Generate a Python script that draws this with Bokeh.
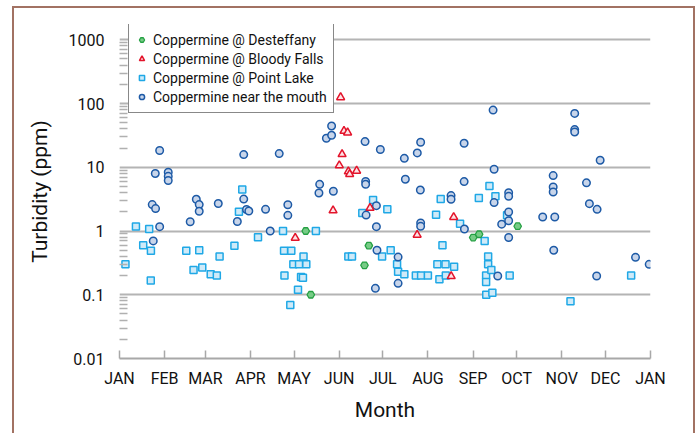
from bokeh.plotting import figure
from bokeh.models import Range1d, FixedTicker, CustomJSTickFormatter, Legend, LegendItem
from bokeh.embed import file_html
from bokeh.resources import INLINE

# ---- data (day of year, turbidity ppm) ----
desteffany_day = [128, 131.5, 168.4, 171.4, 243.1, 247.2, 273.7]
desteffany_val = [1.0, 0.1, 0.29, 0.59, 0.79, 0.89, 1.19]

bloody_day = [120.8, 146.8, 151.1, 152, 153, 154.3, 156.8, 157.3, 158.2, 163, 172.2, 204.6, 228, 229.7]
bloody_val = [0.78, 2.1, 10.7, 125, 16, 37, 35, 8.6, 7.8, 8.8, 2.3, 0.87, 0.195, 1.65]

point_day = [4.1, 11.3, 16.3, 20.4, 21.6, 21.5, 45.9, 50.9, 54.8, 56.9, 62.7, 66.9, 68.8, 79, 82.1,
             84.4, 95.2, 112.4, 113.1, 113.4, 117.4, 118.1, 119.5, 122.7, 123.4, 124.8, 126.1, 126.5,
             128.4, 135, 157.3, 159.8, 166.9, 174.3, 180.5, 184.1, 186.4, 190.8, 191.5, 195.8, 203.7,
             207.3, 212, 217.6, 218.5, 219.9, 220.8, 222, 224.1, 224.3, 230, 234.1, 247, 251, 252,
             252, 252.1, 253.4, 253.4, 254.3, 255.6, 256.3, 258.4, 266.4, 268.2, 310, 351.7]
point_val = [0.3, 1.18, 0.6, 1.08, 0.49, 0.168, 0.49, 0.245, 0.5, 0.268, 0.21, 0.2, 0.4, 0.59, 2.0,
             4.47, 0.8, 1.0, 0.49, 0.2, 0.069, 0.49, 0.3, 0.12, 0.3, 0.19, 0.185, 0.4,
             0.3, 1.0, 0.4, 0.4, 1.92, 3.07, 0.4, 2.19, 0.5, 0.3, 0.23, 0.21, 0.2,
             0.2, 0.2, 1.8, 0.3, 0.175, 3.18, 0.6, 0.3, 0.2, 0.275, 1.3, 3.3, 0.7, 0.2,
             0.158, 0.1, 0.4, 0.3, 5.1, 0.245, 0.108, 3.5, 1.76, 0.2, 0.079, 0.2]

mouth_day = [22.5, 23.2, 24.6, 24.8, 27.6, 27.6, 33.5, 33.5, 33.5, 48.6, 52.8, 54.8, 54.8, 67.9, 81,
             85.4, 85.4, 87.3, 88.9, 100.4, 103.6, 109.8, 115.7, 115.7, 137.1, 137.6, 142.2, 145.8,
             145.8, 147, 168.8, 169.2, 169.2, 169.5, 175.9, 176.6, 176.6, 177, 179.3, 191.5, 191.5,
             195.8, 196.5, 204.7, 206.8, 207, 207, 207, 227.9, 227.9, 236.9, 236.9, 237.1, 256.8,
             257.5, 257.5, 260, 262.7, 267.5, 267.5, 267.5, 267.5, 267.5, 290.9, 298.1, 298.1, 298.1,
             298.5, 299.2, 312.9, 312.9, 312.9, 321, 323, 328, 328.3, 330.4, 354.7, 364.1]
mouth_val = [2.6, 0.7, 8.0, 2.25, 18.3, 1.17, 8.35, 7.2, 6.2, 1.4, 3.15, 2.6, 2.04, 2.7, 1.41,
             15.8, 3.17, 2.18, 2.06, 2.19, 1.0, 16.4, 2.58, 1.76, 3.95, 5.4, 28.5, 31.8,
             44.5, 4.2, 25.3, 6.0, 5.4, 1.78, 0.126, 2.5, 1.17, 0.5, 19, 0.39, 0.151,
             13.8, 6.5, 16.8, 4.4, 24.7, 1.34, 1.185, 3.6, 3.15, 23.8, 5.97, 1.075, 79,
             9.3, 2.79, 0.197, 1.28, 4.0, 3.5, 1.99, 1.45, 0.79, 1.66, 7.4, 4.9, 4.1,
             0.5, 1.66, 70, 39, 35.8, 5.7, 2.69, 0.197, 2.19, 12.9, 0.386, 0.3]

month_ticks = [0, 31, 59, 90, 120, 151, 181, 212, 243, 273, 304, 334, 365]
month_labels = ["JAN", "FEB", "MAR", "APR", "MAY", "JUN", "JUL", "AUG", "SEP", "OCT", "NOV", "DEC", "JAN"]
y_ticks = [0.01, 0.1, 1, 10, 100, 1000]

FONT = "Roboto"
BROWN = "#a27263"

p = figure(width=695, height=433, y_axis_type="log", output_backend="svg",
           toolbar_location=None, x_range=Range1d(0, 365), y_range=Range1d(0.01, 1738),
           min_border_left=119, min_border_right=45, min_border_top=24, min_border_bottom=75)
p.outline_line_color = None
p.background_fill_color = "white"
p.border_fill_alpha = 0
p.styles = {"box-shadow": ("inset 12px 0 0 0 white, inset 0 6px 0 0 white, "
                           f"inset 14px 0 0 0 {BROWN}, inset 0 8px 0 0 {BROWN}, "
                           f"inset -2px 0 0 0 {BROWN}")}

# x axis
p.xaxis.ticker = FixedTicker(ticks=month_ticks)
p.xaxis.major_label_overrides = {t: l for t, l in zip(month_ticks, month_labels)}
p.xaxis.axis_line_color = "#a8a8a8"
p.xaxis.axis_line_width = 2
p.xaxis.major_tick_line_color = "#a8a8a8"
p.xaxis.major_tick_line_width = 1.5
p.xaxis.major_tick_in = 8
p.xaxis.major_tick_out = 0
p.xaxis.minor_tick_line_color = None
p.xaxis.major_label_text_font = FONT
p.xaxis.major_label_text_font_size = "16px"
p.xaxis.major_label_text_color = "#111111"
p.xaxis.major_label_standoff = 10
p.xaxis.axis_label = "Month"
p.xaxis.axis_label_text_font = FONT
p.xaxis.axis_label_text_font_size = "21px"
p.xaxis.axis_label_text_font_style = "normal"
p.xaxis.axis_label_text_color = "#111111"
p.xaxis.axis_label_standoff = 7
p.xgrid.grid_line_color = None

# y axis
minor = [m * 10.0 ** e for e in range(-2, 3) for m in range(2, 10)]
p.yaxis.ticker = FixedTicker(ticks=y_ticks, minor_ticks=minor)
p.yaxis.formatter = CustomJSTickFormatter(code="return String(tick)")
p.yaxis.axis_line_color = None
p.yaxis.major_tick_line_color = None
p.yaxis.minor_tick_line_color = "#b0b0b0"
p.yaxis.minor_tick_line_width = 1.5
p.yaxis.minor_tick_in = 8
p.yaxis.minor_tick_out = 0
p.yaxis.major_label_text_font = FONT
p.yaxis.major_label_text_font_size = "16px"
p.yaxis.major_label_text_color = "#111111"
p.yaxis.major_label_standoff = 9
p.yaxis.axis_label = "Turbidity (ppm)"
p.yaxis.axis_label_text_font = FONT
p.yaxis.axis_label_text_font_size = "21px"
p.yaxis.axis_label_text_font_style = "normal"
p.yaxis.axis_label_text_color = "#111111"
p.yaxis.axis_label_standoff = 14
p.ygrid.grid_line_color = "#b4b4b4"
p.ygrid.grid_line_width = 2
p.ygrid.minor_grid_line_color = None

# glyphs
r_point = p.scatter(point_day, point_val, marker="square", size=7,
                    fill_color="#cfeaf8", line_color="#1fa8e6", line_width=1.5)
r_mouth = p.scatter(mouth_day, mouth_val, marker="circle", size=7.5,
                    fill_color="#c8d5ea", line_color="#1d5aa6", line_width=1.5)
r_bloody = p.scatter(bloody_day, bloody_val, marker="triangle", size=8,
                     fill_color="#fde3e6", line_color="#e3142b", line_width=1.5)
r_dest = p.scatter(desteffany_day, desteffany_val, marker="hex", size=7.5,
                   fill_color="#77cc86", line_color="#25a043", line_width=1.3)

legend = Legend(items=[
    LegendItem(label="Coppermine @ Desteffany", renderers=[r_dest]),
    LegendItem(label="Coppermine @ Bloody Falls", renderers=[r_bloody]),
    LegendItem(label="Coppermine @ Point Lake", renderers=[r_point]),
    LegendItem(label="Coppermine near the mouth", renderers=[r_mouth]),
], location=(9, 245))
legend.label_text_font = FONT
legend.label_text_font_size = "14px"
legend.label_text_color = "#111111"
legend.border_line_color = "#111111"
legend.border_line_width = 1
legend.background_fill_color = "white"
legend.background_fill_alpha = 1
legend.glyph_width = 13
legend.glyph_height = 13
legend.label_height = 19
legend.label_standoff = 5
legend.spacing = 0
legend.padding = 6
legend.margin = 0
p.add_layout(legend, "center")

open("out.html", "w").write(file_html(p, INLINE))
